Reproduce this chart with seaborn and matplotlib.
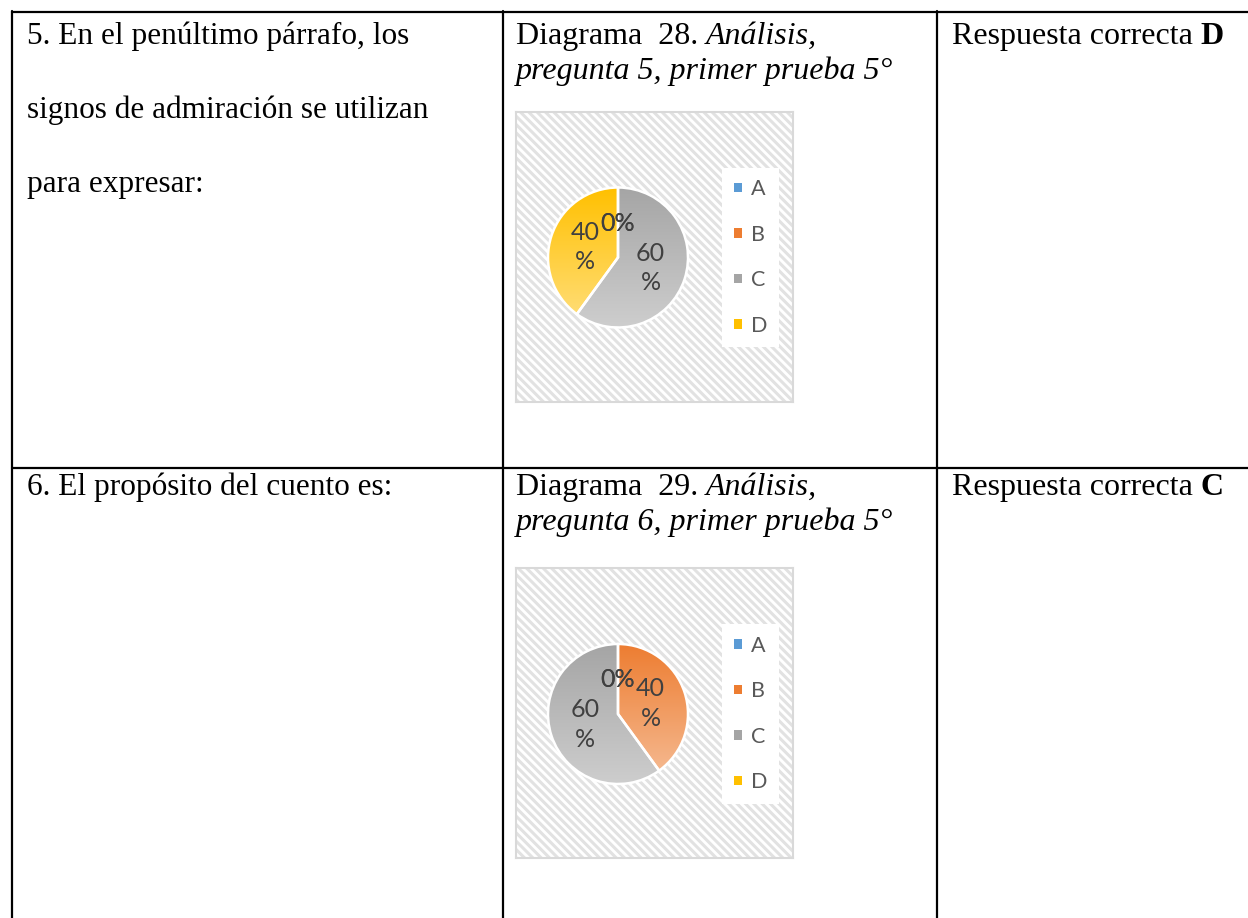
import numpy as np
import matplotlib.pyplot as plt
import seaborn as sns
from matplotlib.colors import LinearSegmentedColormap, to_rgb
from matplotlib.patches import Patch, Rectangle

sns.set_style("white")
plt.rcParams["font.family"] = ["Liberation Serif", "DejaVu Serif"]
plt.rcParams["text.color"] = "black"
plt.rcParams["hatch.linewidth"] = 2.2

# data
categories = ["A", "B", "C", "D"]
pie28 = [0, 0, 60, 40]
pie29 = [0, 40, 60, 0]
texto5 = ["5. En el penúltimo párrafo, los", "signos de admiración se utilizan", "para expresar:"]
texto6 = ["6. El propósito del cuento es:"]
diagramas = ["28", "29"]
preguntas = ["5", "6"]
respuestas = ["D", "C"]

colors = sns.color_palette(["#5B9BD5", "#ED7D31", "#A5A5A5", "#FFC000"])

W, H = 1248, 918
fig = plt.figure(figsize=(W / 100, H / 100), dpi=100)
bg = fig.add_axes([0, 0, 1, 1])
bg.set_xlim(0, W)
bg.set_ylim(H, 0)
bg.axis("off")
renderer = fig.canvas.get_renderer()


def fig_rect(x0, y0, x1, y1):
    return [x0 / W, 1 - y1 / H, (x1 - x0) / W, (y1 - y0) / H]


def runs(x, y, parts, size=23):
    # text pieces with mixed styles, one after the other
    for txt, style, weight in parts:
        t = bg.text(x, y, txt, fontsize=size, style=style, weight=weight,
                    va="baseline", ha="left", color="black")
        x += t.get_window_extent(renderer=renderer).width


def lighten(c, f=0.45):
    c = np.array(to_rgb(c))
    return tuple(c + (1 - c) * f)


def pct(p):
    return "0%" if p < 0.5 else f"{p:.0f}\n%"


# table lines
lw = 1.6
bg.plot([12, W], [12, 12], color="black", lw=lw)
bg.plot([12, W], [468, 468], color="black", lw=lw)
for x in [12, 503, 937]:
    bg.plot([x, x], [11, H], color="black", lw=lw)

# row 1 text
for i, line in enumerate(texto5):
    bg.text(27, 44 + i * 74, line, fontsize=22.5, va="baseline", color="black")
runs(516, 44, [("Diagrama  " + diagramas[0] + ". ", "normal", "normal"),
               ("Análisis,", "italic", "normal")])
runs(516, 79, [("pregunta " + preguntas[0] + ", primer prueba 5°", "italic", "normal")])
runs(952, 44, [("Respuesta correcta ", "normal", "normal"), (respuestas[0], "normal", "bold")])

# row 2 text
bg.text(27, 495, texto6[0], fontsize=22.5, va="baseline", color="black")
runs(516, 495, [("Diagrama  " + diagramas[1] + ". ", "normal", "normal"),
                ("Análisis,", "italic", "normal")])
runs(516, 530, [("pregunta " + preguntas[1] + ", primer prueba 5°", "italic", "normal")])
runs(952, 495, [("Respuesta correcta ", "normal", "normal"), (respuestas[1], "normal", "bold")])


def draw_pie(values, box, cx, cy):
    axb = fig.add_axes(fig_rect(*box))
    axb.set_xticks([])
    axb.set_yticks([])
    for s in axb.spines.values():
        s.set_color("#D9D9D9")
        s.set_linewidth(1.5)
    axb.add_patch(Rectangle((0, 0), 1, 1, transform=axb.transAxes, facecolor="white",
                            edgecolor="#E2E2E2", hatch="\\\\\\\\", linewidth=0))

    r = 70
    ax = fig.add_axes(fig_rect(cx - r, cy - r, cx + r, cy + r))
    wedges, texts, autotexts = ax.pie(
        values, colors=colors, startangle=90, counterclock=False,
        autopct=pct, pctdistance=0.49,
        wedgeprops=dict(edgecolor="white", linewidth=1.8),
        textprops=dict(color="#404040", fontsize=18, family=["Lato", "DejaVu Sans"]))
    for t in autotexts:
        t.set_linespacing(1.35)
        t.set_zorder(5)

    # vertical gradient like the office chart
    for w, v, c in zip(wedges, values, colors):
        if v == 0:
            continue
        ext = w.get_path().get_extents()
        cmap = LinearSegmentedColormap.from_list("g", [c, lighten(c)])
        grad = np.linspace(0, 1, 256).reshape(-1, 1)
        im = ax.imshow(grad, cmap=cmap, extent=[ext.x0, ext.x1, ext.y0, ext.y1],
                       aspect="auto", zorder=1.5)
        im.set_clip_path(w)
        w.set_facecolor("none")
        w.set_zorder(2)
    ax.set_xlim(-1, 1)
    ax.set_ylim(-1, 1)

    handles = [Patch(facecolor=c, edgecolor="none") for c in colors]
    axb.legend(handles, categories, loc="center left", bbox_to_anchor=(722, cy),
               bbox_transform=bg.transData, frameon=True, facecolor="white",
               edgecolor="none", framealpha=1, fancybox=False,
               prop=dict(family=["Lato", "DejaVu Sans"], size=15.5), labelcolor="#595959",
               handlelength=0.38, handleheight=0.3, handletextpad=0.4,
               labelspacing=1.18, borderpad=0.55, borderaxespad=0)


draw_pie(pie28, (516, 112, 793, 402), 618, 257.5)
draw_pie(pie29, (516, 568, 793, 858), 618, 714)

fig.savefig("out.png", dpi=100)
